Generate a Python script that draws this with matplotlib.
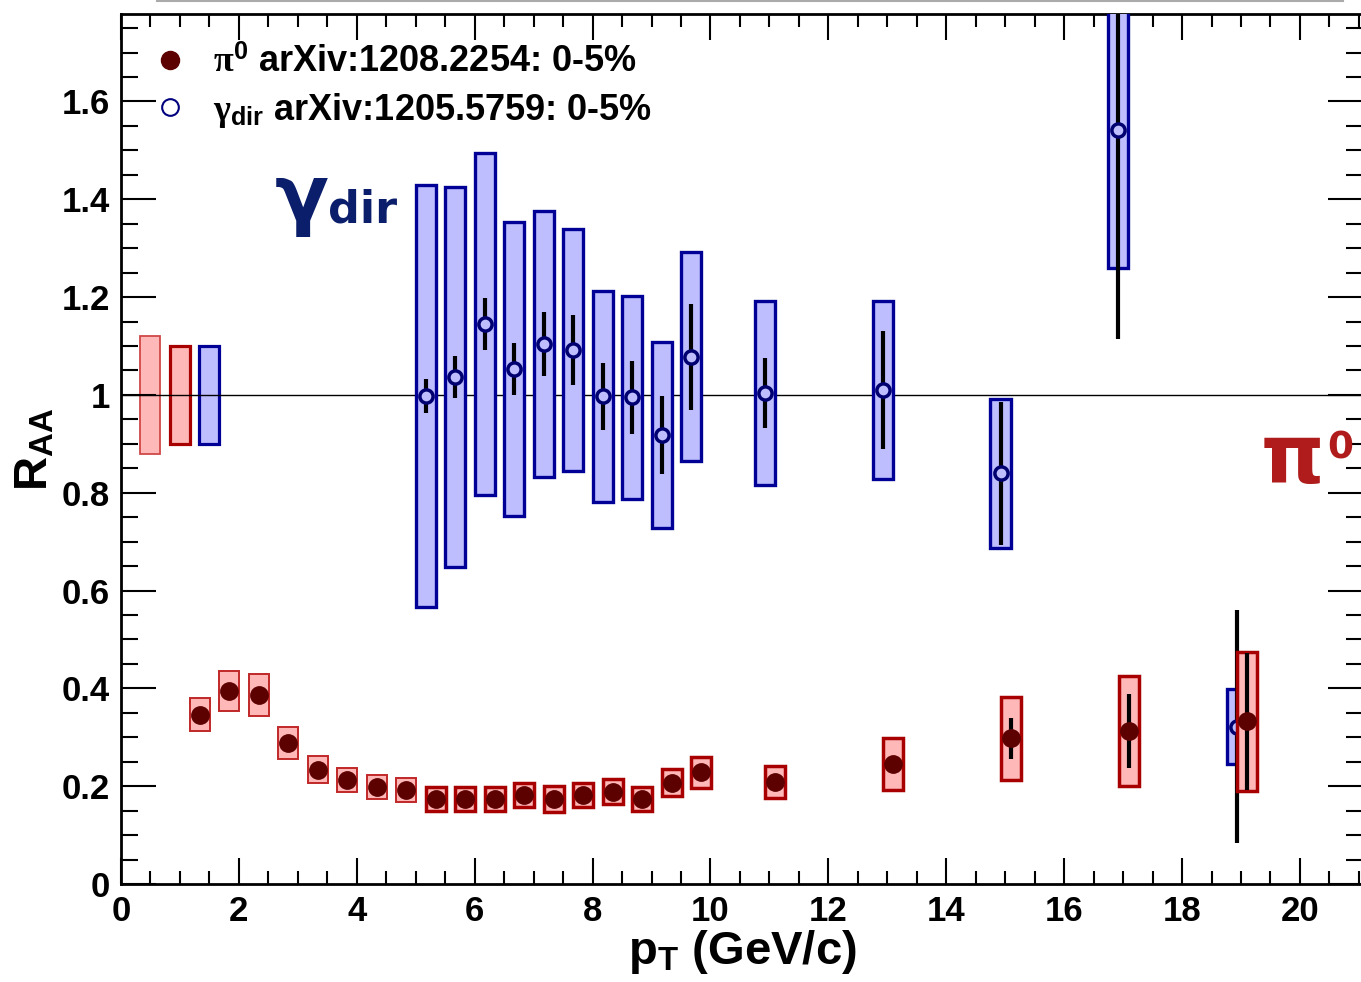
import numpy as np
import matplotlib
matplotlib.use("Agg")
from matplotlib import pyplot as plt
from matplotlib.lines import Line2D
from matplotlib.ticker import MultipleLocator, FuncFormatter

# normalisation boxes at R_AA = 1
norm_x = [0.5, 1.0, 1.5]
norm_err = [0.12, 0.10, 0.10]

# pi0 R_AA, 0-5% (arXiv:1208.2254)
pi0_pt = [1.34, 1.84, 2.34, 2.84, 3.34, 3.84, 4.34, 4.84, 5.34, 5.84, 6.34, 6.84,
          7.34, 7.84, 8.34, 8.84, 9.34, 9.84, 11.1, 13.1, 15.1, 17.1, 19.1]
pi0_raa = [0.346, 0.395, 0.386, 0.288, 0.234, 0.213, 0.198, 0.192, 0.174, 0.174, 0.174, 0.182,
           0.174, 0.182, 0.189, 0.174, 0.207, 0.228, 0.208, 0.245, 0.298, 0.313, 0.333]
pi0_sys = [0.034, 0.041, 0.043, 0.033, 0.028, 0.025, 0.024, 0.024, 0.025, 0.025, 0.025, 0.025,
           0.026, 0.025, 0.026, 0.024, 0.028, 0.031, 0.033, 0.053, 0.085, 0.113, 0.142]
pi0_stat = [0.003, 0.003, 0.003, 0.003, 0.003, 0.003, 0.003, 0.003, 0.003, 0.003, 0.003, 0.003,
            0.003, 0.003, 0.003, 0.004, 0.005, 0.006, 0.008, 0.015, 0.042, 0.075, 0.140]

# direct photon R_AA, 0-5% (arXiv:1205.5759)
gam_pt = [5.17, 5.67, 6.17, 6.67, 7.17, 7.67, 8.17, 8.67, 9.17, 9.67, 10.92, 12.92, 14.92, 16.92, 18.93]
gam_raa = [0.998, 1.037, 1.145, 1.053, 1.104, 1.092, 0.997, 0.995, 0.918, 1.078, 1.004, 1.010, 0.840, 1.542, 0.322]
gam_sys = [0.431, 0.389, 0.349, 0.300, 0.272, 0.248, 0.216, 0.207, 0.191, 0.214, 0.189, 0.182, 0.152, 0.283, 0.076]
gam_stat = [0.034, 0.043, 0.053, 0.054, 0.066, 0.071, 0.069, 0.075, 0.080, 0.108, 0.071, 0.120, 0.146, 0.428, 0.238]

plt.rcParams['font.family'] = ['Liberation Sans', 'DejaVu Sans']
plt.rcParams['font.weight'] = 'bold'
plt.rcParams['axes.labelweight'] = 'bold'
plt.rcParams['mathtext.fontset'] = 'custom'
plt.rcParams['mathtext.rm'] = 'Liberation Serif'
plt.rcParams['mathtext.it'] = 'Liberation Serif:italic'
plt.rcParams['mathtext.bf'] = 'Liberation Sans:bold'
plt.rcParams['mathtext.sf'] = 'Liberation Sans:bold'

red_fill = '#FFB8B8'
red_edge = '#A80000'
blue_fill = '#BEBEFF'
blue_edge = '#000096'
bw = 0.34

fig = plt.figure(figsize=(13.61, 9.82), dpi=100)
ax = fig.add_axes([0.0889, 0.0998, 0.9126, 0.886])

# global normalisation boxes (under the unity line)
ax.bar(norm_x[0], 2 * norm_err[0], bottom=1 - norm_err[0], width=bw, color=red_fill,
       edgecolor='#D04848', linewidth=1.3, zorder=1)
ax.bar(norm_x[1], 2 * norm_err[1], bottom=1 - norm_err[1], width=bw, color=red_fill,
       edgecolor=red_edge, linewidth=2.3, zorder=1)
ax.bar(norm_x[2], 2 * norm_err[2], bottom=1 - norm_err[2], width=bw, color=blue_fill,
       edgecolor=blue_edge, linewidth=2.3, zorder=1)
ax.axhline(1.0, color='black', lw=1.0, zorder=2)

# direct photons
g_raa = np.array(gam_raa)
g_sys = np.array(gam_sys)
ax.bar(gam_pt, 2 * g_sys, bottom=g_raa - g_sys, width=bw, color=blue_fill,
       edgecolor=blue_edge, linewidth=2.4, zorder=3)
ax.errorbar(gam_pt, gam_raa, yerr=gam_stat, fmt='none', ecolor='black', elinewidth=3, capsize=0, zorder=4)
ax.plot(gam_pt, gam_raa, 'o', ms=9.5, mfc=blue_fill, mec='#000070', mew=2.5, zorder=5)

# pi0
p_raa = np.array(pi0_raa)
p_sys = np.array(pi0_sys)
ax.bar(pi0_pt[:8], 2 * p_sys[:8], bottom=p_raa[:8] - p_sys[:8], width=bw, color=red_fill,
       edgecolor='#C02828', linewidth=1.4, zorder=6)
ax.bar(pi0_pt[8:], 2 * p_sys[8:], bottom=p_raa[8:] - p_sys[8:], width=bw, color=red_fill,
       edgecolor=red_edge, linewidth=2.5, zorder=6)
ax.errorbar(pi0_pt, pi0_raa, yerr=pi0_stat, fmt='none', ecolor='black', elinewidth=3, capsize=0, zorder=7)
ax.plot(pi0_pt, pi0_raa, 'o', ms=12.5, color='#5C0000', zorder=8)

ax.set_xlim(0, 21.07)
ax.set_ylim(0, 1.779)
ax.xaxis.set_major_locator(MultipleLocator(2))
ax.xaxis.set_minor_locator(MultipleLocator(0.5))
ax.yaxis.set_major_locator(MultipleLocator(0.2))
ax.yaxis.set_minor_locator(MultipleLocator(0.05))
fmt = FuncFormatter(lambda v, p: f'{v:g}')
ax.xaxis.set_major_formatter(fmt)
ax.yaxis.set_major_formatter(fmt)
ax.tick_params(axis='both', which='both', direction='in', top=True, right=True, width=1.5, labelsize=25)
ax.tick_params(axis='x', which='major', length=19, pad=8)
ax.tick_params(axis='x', which='minor', length=9.5)
ax.tick_params(axis='y', which='major', length=25, pad=8)
ax.tick_params(axis='y', which='minor', length=12)
for s in ax.spines.values():
    s.set_linewidth(2)

ax.set_xlabel(r'$\mathbf{p}_{\mathbf{T}}$ (GeV/c)', fontsize=34, fontweight='bold', labelpad=0)
ax.set_ylabel(r'$\mathbf{R}_{\mathbf{AA}}$', fontsize=34, fontweight='bold', labelpad=3)

handles = [Line2D([], [], marker='o', ls='none', color='#5C0000', ms=13),
           Line2D([], [], marker='o', ls='none', mfc='white', mec='#00007F', ms=12, mew=1.5)]
labels = [r'$\mathrm{\pi}^{\mathbf{0}}$ arXiv:1208.2254: 0-5%',
          r'$\mathrm{\gamma}_{\mathbf{dir}}$ arXiv:1205.5759: 0-5%']
ax.legend(handles, labels, loc='upper left', bbox_to_anchor=(0.025, 0.964), frameon=False,
          fontsize=26, handlelength=1.0, handletextpad=0.7, borderaxespad=0, borderpad=0,
          labelspacing=0.3)

ax.text(2.61, 1.356, 'γ', fontsize=57, family='DejaVu Sans', weight='bold', color='#0B1E6B',
        ha='left', va='baseline')
ax.text(3.51, 1.352, 'dir', fontsize=32, family='DejaVu Sans', weight='bold', color='#0B1E6B',
        ha='left', va='baseline')
ax.text(19.33, 0.820, 'π', fontsize=58, family='DejaVu Sans', weight='bold', color='#B01C1C',
        ha='left', va='baseline')
ax.text(20.47, 0.869, '0', fontsize=27, family='DejaVu Sans', weight='bold', color='#B01C1C',
        ha='left', va='baseline')

fig.add_artist(Line2D([0.115, 0.987], [0.9992, 0.9992], color='#AAAAAA', lw=1.5))

fig.savefig('out.png', dpi=100)
